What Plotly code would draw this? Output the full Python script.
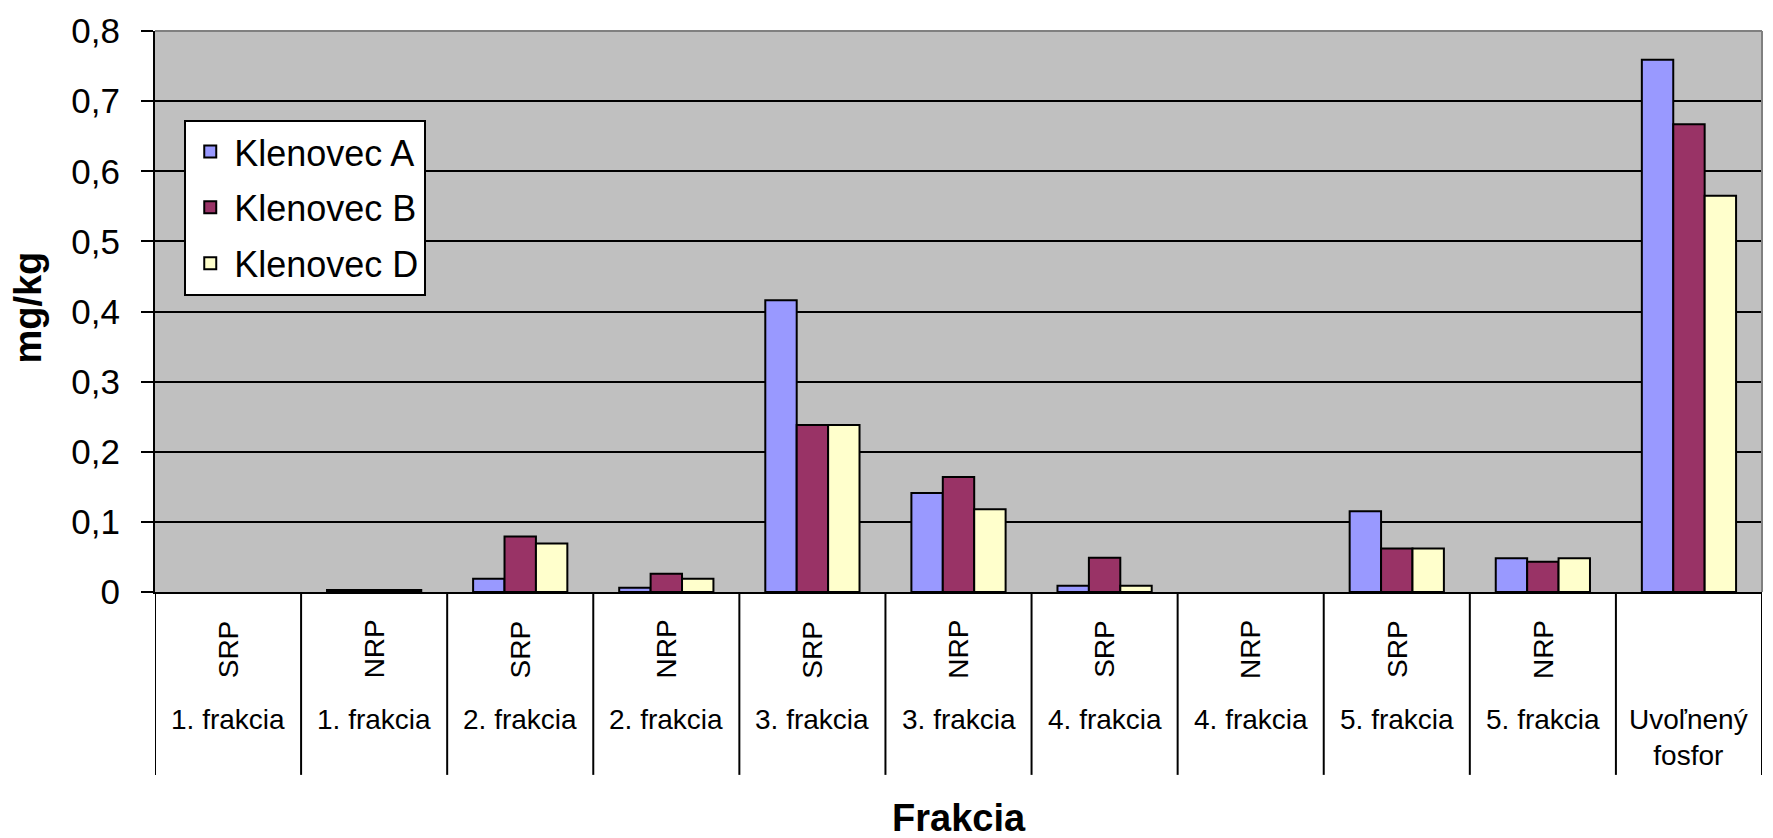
import plotly.graph_objects as go

# Phosphorus fractions (mg/kg) for three Klenovec sampling sites
form_labels = ["SRP", "NRP", "SRP", "NRP", "SRP", "NRP", "SRP", "NRP", "SRP", "NRP", ""]
fraction_labels = ["1. frakcia", "1. frakcia", "2. frakcia", "2. frakcia", "3. frakcia",
                   "3. frakcia", "4. frakcia", "4. frakcia", "5. frakcia", "5. frakcia",
                   "Uvoľnený<br>fosfor"]

klenovec_a = [0.0, 0.003, 0.019, 0.006, 0.416, 0.141, 0.009, 0.0, 0.115, 0.048, 0.759]
klenovec_b = [0.0, 0.003, 0.079, 0.026, 0.238, 0.164, 0.049, 0.0, 0.062, 0.043, 0.667]
klenovec_d = [0.0, 0.003, 0.069, 0.019, 0.238, 0.118, 0.009, 0.0, 0.062, 0.048, 0.565]

series_names = ["Klenovec A", "Klenovec B", "Klenovec D"]
series_colors = ["#9999FF", "#993366", "#FFFFCC"]

FONT = "Liberation Sans, Arial, sans-serif"

x_pos = list(range(len(fraction_labels)))

fig = go.Figure()
for name, vals, col in zip(series_names, [klenovec_a, klenovec_b, klenovec_d], series_colors):
    # empty bars get no outline so nothing is drawn on the baseline;
    # points are passed last-to-first so the legend swatch takes a drawn bar's outline
    outline = [2 if v > 0 else 0 for v in vals]
    fig.add_trace(go.Bar(
        x=x_pos[::-1], y=vals[::-1], name=name, legendgroup=name,
        marker=dict(color=col, line=dict(color="black", width=outline[::-1])),
    ))

# table below the plot: vertical dividers between categories
table_bottom = -0.326
shapes = []
for i in range(len(fraction_labels) + 1):
    shapes.append(dict(type="line", xref="x", yref="paper",
                       x0=i - 0.5, x1=i - 0.5, y0=0, y1=table_bottom,
                       line=dict(color="black", width=2)))
# grey frame on top and right of plot area
shapes.append(dict(type="line", xref="paper", yref="paper", x0=0, x1=1, y0=1, y1=1,
                   line=dict(color="#808080", width=2), layer="above"))
shapes.append(dict(type="line", xref="paper", yref="paper", x0=1, x1=1, y0=0, y1=1,
                   line=dict(color="#808080", width=2), layer="above"))

annotations = []
for i, (form, frac) in enumerate(zip(form_labels, fraction_labels)):
    if form:
        annotations.append(dict(x=i, y=-0.102, xref="x", yref="paper", text=form,
                                textangle=-90, showarrow=False, xanchor="center",
                                yanchor="middle",
                                font=dict(family=FONT, size=28, color="black")))
    annotations.append(dict(x=i, y=-0.196, xref="x", yref="paper", text=frac,
                            showarrow=False, xanchor="center", yanchor="top",
                            font=dict(family=FONT, size=28, color="black")))

annotations.append(dict(x=-0.079, y=0.507, xref="paper", yref="paper", text="<b>mg/kg</b>",
                        textangle=-90, showarrow=False, xanchor="center", yanchor="middle",
                        font=dict(family=FONT, size=38, color="black")))
annotations.append(dict(x=0.5, y=-0.403, xref="paper", yref="paper", text="<b>Frakcia</b>",
                        showarrow=False, xanchor="center", yanchor="middle",
                        font=dict(family=FONT, size=38, color="black")))

fig.update_layout(
    width=1773, height=838,
    margin=dict(l=155, r=11, t=24, b=246),
    paper_bgcolor="white",
    plot_bgcolor="#C0C0C0",
    separators=", ",
    barmode="group",
    bargap=0.355,
    bargroupgap=0,
    showlegend=True,
    legend=dict(
        x=0.0182, y=0.842, xanchor="left", yanchor="top",
        bgcolor="white", bordercolor="black", borderwidth=2,
        font=dict(family=FONT, size=36, color="black"),
        traceorder="grouped", tracegroupgap=6, itemwidth=38,
    ),
    xaxis=dict(
        range=[-0.5, len(fraction_labels) - 0.5],
        showticklabels=False, ticks="", showgrid=False, zeroline=False,
        showline=True, linecolor="black", linewidth=2,
    ),
    yaxis=dict(
        range=[0, 0.8], dtick=0.1, tick0=0,
        showgrid=True, gridcolor="black", gridwidth=2,
        zeroline=False, showline=True, linecolor="black", linewidth=2,
        ticks="outside", ticklen=12, tickwidth=2, tickcolor="black",
        ticklabelstandoff=14,
        tickfont=dict(family=FONT, size=35, color="black"),
    ),
    shapes=shapes,
    annotations=annotations,
)

fig.write_html("out.html")
